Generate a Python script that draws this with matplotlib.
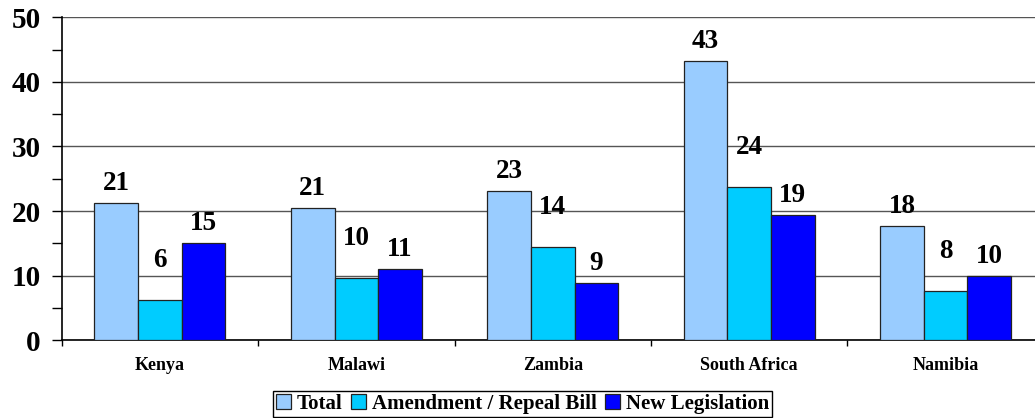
import numpy as np
import matplotlib.pyplot as plt
from matplotlib.ticker import MultipleLocator

plt.rcParams['font.family'] = ['Liberation Serif', 'DejaVu Serif']
plt.rcParams['font.weight'] = 'bold'

countries = ['Kenya', 'Malawi', 'Zambia', 'South Africa', 'Namibia']
total = [21.2, 20.5, 23.1, 43.2, 17.7]
amendment = [6.2, 9.6, 14.4, 23.7, 7.6]
new_leg = [15.0, 11.0, 8.8, 19.4, 9.9]
total_lbl = ['21', '21', '23', '43', '18']
amend_lbl = ['6', '10', '14', '24', '8']
new_lbl = ['15', '11', '9', '19', '10']

series = [
    ('Total', total, total_lbl, '#99CCFF', 9.5),
    ('Amendment / Repeal Bill', amendment, amend_lbl, '#00CCFF', 24),
    ('New Legislation', new_leg, new_lbl, '#0000FF', 9.5),
]

fig = plt.figure(figsize=(10.35, 4.18), dpi=100)
ax = fig.add_axes([0.0596, 0.186, 0.949, 0.7727])

x = np.arange(len(countries))
w = 0.222
for i, (name, vals, lbls, col, off) in enumerate(series):
    pos = x + (i - 1) * w
    ax.bar(pos, vals, w, color=col, edgecolor='#222222', linewidth=0.9,
           label=name, zorder=3)
    for px, v, l in zip(pos, vals, lbls):
        ax.annotate(l, (px, v), xytext=(0, off), textcoords='offset points',
                    ha='center', va='baseline', fontsize=19.5, fontweight='bold')

ax.set_ylim(0, 50)
ax.set_xlim(-0.5, 4.5)
ax.yaxis.set_major_locator(MultipleLocator(10))
ax.yaxis.set_minor_locator(MultipleLocator(5))
ax.yaxis.grid(True, which='major', color='#555555', linewidth=1, zorder=0)
ax.tick_params(axis='y', which='both', direction='out', length=7, width=1,
               labelsize=21, pad=8)

ax.set_xticks(x)
ax.set_xticklabels(countries, fontsize=13, fontweight='bold')
ax.set_xticks(np.arange(-0.5, 5.0, 1.0), minor=True)
ax.tick_params(axis='x', which='major', length=0, pad=12)
ax.tick_params(axis='x', which='minor', length=4, width=1, direction='out')

for s in ['top', 'right']:
    ax.spines[s].set_visible(False)
for s in ['left', 'bottom']:
    ax.spines[s].set_color('black')
    ax.spines[s].set_linewidth(1.2)

leg = fig.legend(loc='center', bbox_to_anchor=(0.505, 0.034), ncol=3,
                 fancybox=False, edgecolor='black', framealpha=1,
                 prop={'size': 15, 'weight': 'bold'},
                 handlelength=0.7, handleheight=0.7, handletextpad=0.3,
                 columnspacing=0.4, borderpad=0.15, borderaxespad=0)
leg.get_frame().set_linewidth(1)

fig.savefig('out.png', dpi=100)
